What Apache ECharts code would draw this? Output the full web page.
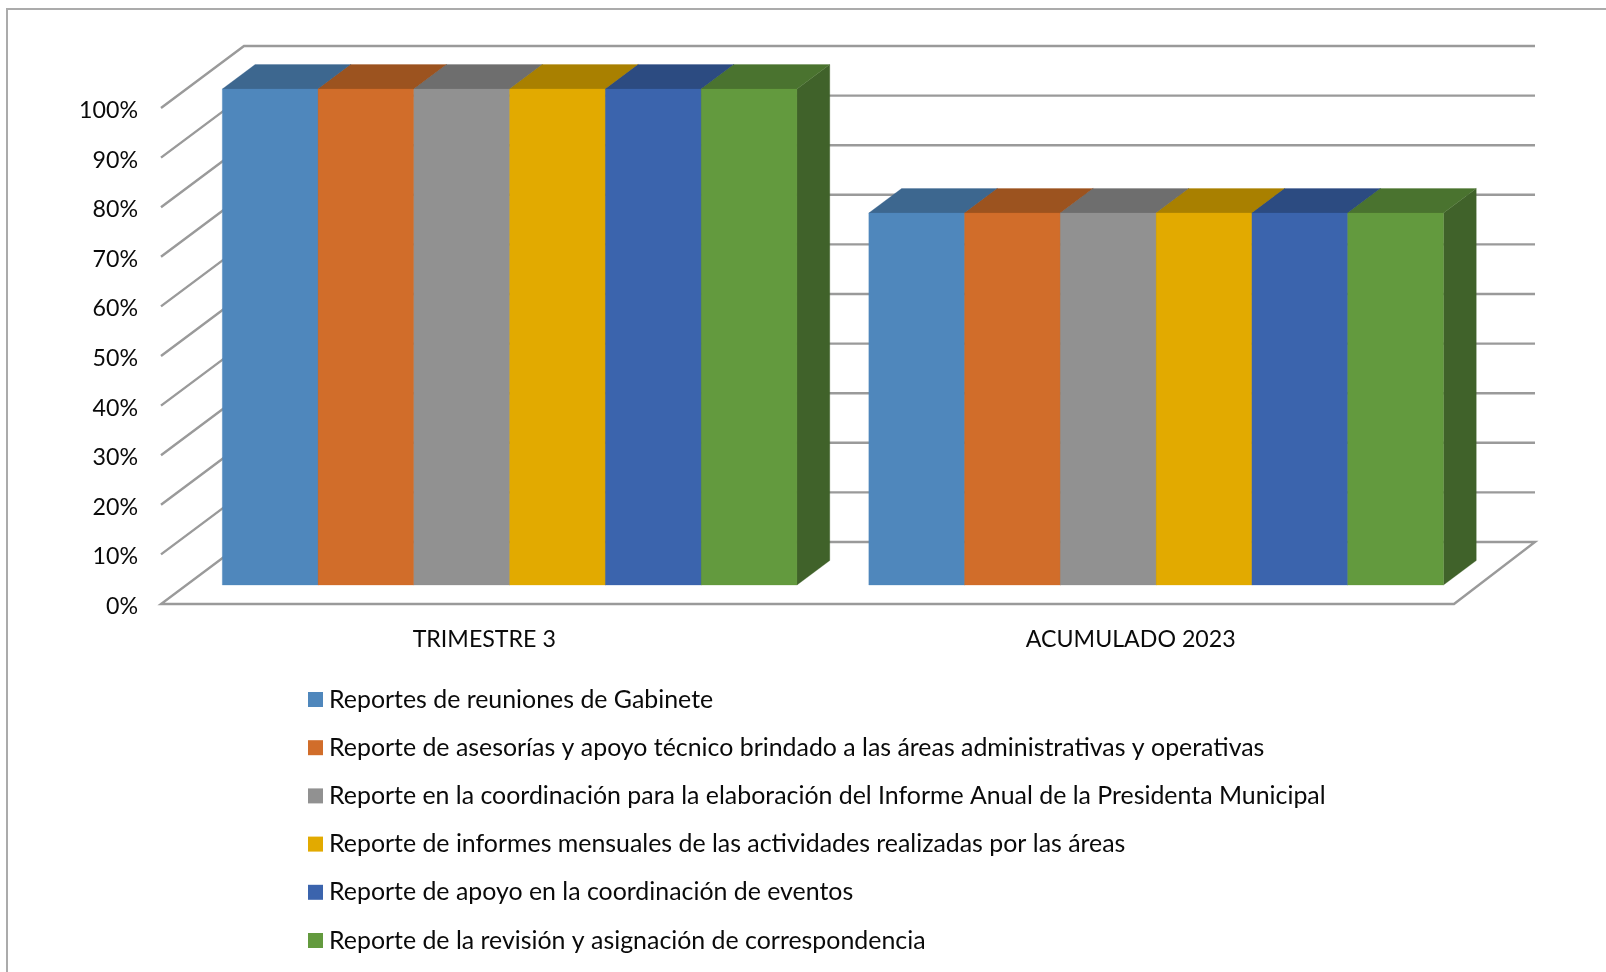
<!DOCTYPE html>
<html>
<head>
<meta charset="utf-8">
<title>Reportes 2023</title>
<style>
  html, body { margin: 0; padding: 0; background: #fff; }
  #chart { width: 1606px; height: 972px; }
</style>
<script src="https://cdn.jsdelivr.net/npm/echarts@6/dist/echarts.min.js"></script>
</head>
<body>
<div id="chart"></div>
<script>
// chart data
var categories = ['TRIMESTRE 3', 'ACUMULADO 2023'];
var seriesNames = [
  'Reportes de reuniones de Gabinete',
  'Reporte de asesorías y apoyo técnico brindado a las áreas administrativas y operativas',
  'Reporte en la coordinación para la elaboración del Informe Anual de la Presidenta Municipal',
  'Reporte de informes mensuales de las actividades realizadas por las áreas',
  'Reporte de apoyo en la coordinación de eventos',
  'Reporte de la revisión y asignación de correspondencia'
];
var gabinete = [100, 75];
var asesorias = [100, 75];
var informeAnual = [100, 75];
var informesMensuales = [100, 75];
var eventos = [100, 75];
var correspondencia = [100, 75];
var tickValues = [0, 10, 20, 30, 40, 50, 60, 70, 80, 90, 100];

var frontColors = ['#4F87BC', '#D16D2A', '#919191', '#E2AA00', '#3B64AD', '#639A3E'];
var topColors = ['#3D678F', '#9C531F', '#6E6E6E', '#A98000', '#2C4B81', '#4A732F'];
var sideColors = ['#335778', '#83451A', '#5C5C5C', '#8E6B00', '#253F6C', '#40622A'];

var allValues = [gabinete, asesorias, informeAnual, informesMensuales, eventos, correspondencia];

// fake 3D: how far the back wall sits from the front of the floor
var DEPTH_X = 83;
var DEPTH_Y = 62;
var WALL_X_LEFT = 83;   // the wall corners lean a little differently
var WALL_X_RIGHT = 81;
var BAR_FRONT = 0.306;  // depth of the bars' front face
var BAR_BACK = 0.701;   // depth of the bars' back face
var GAP_WIDTH = 0.75;   // gap between clusters, in bar widths
var GRID_COLOR = '#9A9A9A';
var FONT = 'Lato';

function back(x, y, d) {
  return [x + d * DEPTH_X, y - d * DEPTH_Y];
}

function renderWall(params, api) {
  var cs = params.coordSys;
  var y = api.coord([0, api.value(1)])[1];
  var backLeft = [cs.x + WALL_X_LEFT, y - DEPTH_Y];
  var backRight = [cs.x + cs.width + WALL_X_RIGHT, y - DEPTH_Y];
  var wall = {
    type: 'polyline',
    shape: { points: [[cs.x, y], backLeft, backRight] },
    style: { fill: 'none', stroke: GRID_COLOR, lineWidth: 2.4 }
  };
  if (api.value(1) === 0) {
    // the floor is a closed outline
    wall.type = 'polygon';
    wall.shape.points = [backLeft, [cs.x, y], [cs.x + cs.width, y], backRight];
  }
  return wall;
}

function makeBarRenderer(idx) {
  return function (params, api) {
    var band = api.size([1, 0])[0];
    var barW = band / (allValues.length + GAP_WIDTH);
    var top = api.coord([api.value(0), api.value(1)]);
    var bottom = api.coord([api.value(0), 0]);
    var left = top[0] + (idx - allValues.length / 2) * barW;
    var right = left + barW;

    function poly(pts, color) {
      return {
        type: 'polygon',
        shape: { points: pts },
        style: { fill: color, stroke: color, lineWidth: 0.3 }
      };
    }
    var fTL = back(left, top[1], BAR_FRONT), fTR = back(right, top[1], BAR_FRONT);
    var fBL = back(left, bottom[1], BAR_FRONT), fBR = back(right, bottom[1], BAR_FRONT);
    var bTL = back(left, top[1], BAR_BACK), bTR = back(right, top[1], BAR_BACK);
    var bBR = back(right, bottom[1], BAR_BACK);
    return {
      type: 'group',
      children: [
        poly([fTR, bTR, bBR, fBR], sideColors[idx]),
        poly([fTL, bTL, bTR, fTR], topColors[idx]),
        poly([fTL, fTR, fBR, fBL], frontColors[idx])
      ]
    };
  };
}

var series = [{
  name: 'paredes',
  type: 'custom',
  silent: true,
  z: 1,
  encode: { x: 0, y: 1 },
  data: tickValues.map(function (v) { return [0, v]; }),
  renderItem: renderWall
}];

allValues.forEach(function (values, idx) {
  series.push({
    name: seriesNames[idx],
    type: 'custom',
    z: 2 + idx,
    encode: { x: 0, y: 1 },
    itemStyle: { color: frontColors[idx] },
    data: values.map(function (v, i) { return [i, v]; }),
    renderItem: makeBarRenderer(idx)
  });
});

var chart = echarts.init(document.getElementById('chart'));
chart.setOption({
  animation: false,
  backgroundColor: '#ffffff',
  textStyle: { fontFamily: FONT },
  graphic: [{
    type: 'polyline',
    silent: true,
    shape: { points: [[7, 972], [7, 9], [1606, 9]] },
    style: { fill: 'none', stroke: '#ABABAB', lineWidth: 2 }
  }],
  grid: { left: 161, right: 152, top: 108, bottom: 368 },
  xAxis: {
    type: 'category',
    data: categories,
    axisLine: { show: false },
    axisTick: { show: false },
    axisLabel: { color: '#0A0A0A', fontSize: 23.2, fontFamily: FONT, margin: 24 }
  },
  yAxis: {
    type: 'value',
    min: 0,
    max: 100,
    interval: 10,
    axisLine: { show: false },
    axisTick: { show: false },
    splitLine: { show: false },
    // labels sit a little below their tick
    axisLabel: { color: '#0A0A0A', fontSize: 23.2, fontFamily: FONT, margin: 23, verticalAlign: 'top', lineHeight: 5, formatter: '{value}%' }
  },
  legend: {
    orient: 'vertical',
    left: 308,
    top: 687,
    padding: 0,
    itemWidth: 15,
    itemHeight: 15,
    itemGap: 23.2,
    icon: 'rect',
    selectedMode: false,
    data: seriesNames,
    textStyle: { color: '#0A0A0A', fontSize: 24.9, fontFamily: FONT, lineHeight: 24, padding: [0, 0, 0, 1] }
  },
  series: series
});
</script>
</body>
</html>
